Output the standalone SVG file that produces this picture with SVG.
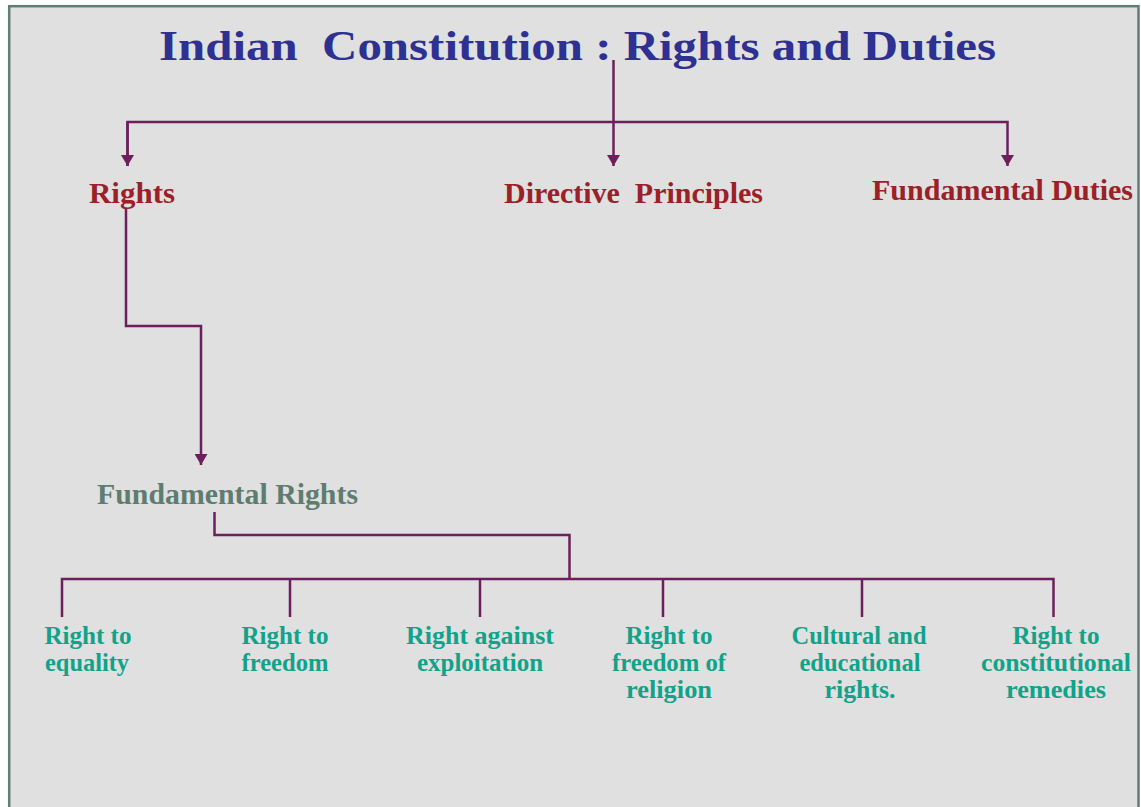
<svg xmlns="http://www.w3.org/2000/svg" width="1141" height="807" viewBox="0 0 1141 807">
  <style>
    .conn { fill: none; stroke: #6d1f5d; stroke-width: 2.5; }
    .title { font-family: "Liberation Serif", "Times New Roman", serif; font-weight: bold; font-size: 42px; fill: #2e3191; white-space: pre; }
    .main { font-family: "Liberation Serif", "Times New Roman", serif; font-weight: bold; font-size: 30px; fill: #9b2027; white-space: pre; }
    .sub { font-family: "Liberation Serif", "Times New Roman", serif; font-weight: bold; font-size: 29px; fill: #5e7d70; }
    .leaf { font-family: "Liberation Serif", "Times New Roman", serif; font-weight: bold; font-size: 26px; fill: #10a38a; text-anchor: middle; }
  </style>
  <defs>
    <marker id="arr" markerUnits="userSpaceOnUse" markerWidth="11" markerHeight="13" viewBox="0 0 11 13" refX="11" refY="6.5" orient="auto">
      <path d="M0,0 L11,6.5 L0,13 z" fill="#6d1f5d"/>
    </marker>
  </defs>
  <rect x="0" y="0" width="1141" height="807" fill="#ffffff"/>
  <rect x="9.2" y="6.2" width="1129.3" height="820" fill="#dfe0df" stroke="#5f7f71" stroke-width="2.5"/>

  <g id="connectors">
    <path class="conn" d="M613.5,60 V166" marker-end="url(#arr)"/>
    <path class="conn" d="M127.5,166 V122 H1007.5 V166" marker-end="url(#arr)"/>
    <path class="conn" d="M127.5,122 V166" marker-end="url(#arr)"/>
    <path class="conn" d="M126,208 V326 H201 V465" marker-end="url(#arr)"/>
    <path class="conn" d="M214.5,512 V535 H569.5 V579"/>
    <path class="conn" d="M62,617 V579 H1053.5 V617"/>
    <path class="conn" d="M290,579 V617"/>
    <path class="conn" d="M480,579 V617"/>
    <path class="conn" d="M663,579 V617"/>
    <path class="conn" d="M862,579 V617"/>
  </g>

  <g id="title">
    <text class="title" x="159" y="60" textLength="837" lengthAdjust="spacingAndGlyphs">Indian  Constitution : Rights and Duties</text>
  </g>
  <g id="rights">
    <text class="main" x="89" y="203" textLength="86" lengthAdjust="spacingAndGlyphs">Rights</text>
  </g>
  <g id="directive-principles">
    <text class="main" x="504" y="203" textLength="259" lengthAdjust="spacingAndGlyphs">Directive  Principles</text>
  </g>
  <g id="fundamental-duties">
    <text class="main" x="872" y="200" textLength="261" lengthAdjust="spacingAndGlyphs">Fundamental Duties</text>
  </g>
  <g id="fundamental-rights">
    <text class="sub" x="97" y="504" textLength="261" lengthAdjust="spacingAndGlyphs">Fundamental Rights</text>
  </g>

  <g id="right-to-equality">
    <text class="leaf" x="88" y="644" textLength="87" lengthAdjust="spacingAndGlyphs">Right to</text>
    <text class="leaf" x="87" y="671" textLength="84" lengthAdjust="spacingAndGlyphs">equality</text>
  </g>
  <g id="right-to-freedom">
    <text class="leaf" x="285" y="644" textLength="87" lengthAdjust="spacingAndGlyphs">Right to</text>
    <text class="leaf" x="285" y="671" textLength="87" lengthAdjust="spacingAndGlyphs">freedom</text>
  </g>
  <g id="right-against-exploitation">
    <text class="leaf" x="480" y="644" textLength="148" lengthAdjust="spacingAndGlyphs">Right against</text>
    <text class="leaf" x="480" y="671" textLength="126" lengthAdjust="spacingAndGlyphs">exploitation</text>
  </g>
  <g id="right-to-freedom-of-religion">
    <text class="leaf" x="669" y="644" textLength="87" lengthAdjust="spacingAndGlyphs">Right to</text>
    <text class="leaf" x="669" y="671" textLength="114" lengthAdjust="spacingAndGlyphs">freedom of</text>
    <text class="leaf" x="669" y="698" textLength="86" lengthAdjust="spacingAndGlyphs">religion</text>
  </g>
  <g id="cultural-educational-rights">
    <text class="leaf" x="859" y="644" textLength="135" lengthAdjust="spacingAndGlyphs">Cultural and</text>
    <text class="leaf" x="860" y="671" textLength="121" lengthAdjust="spacingAndGlyphs">educational</text>
    <text class="leaf" x="860" y="698" textLength="71" lengthAdjust="spacingAndGlyphs">rights.</text>
  </g>
  <g id="right-to-constitutional-remedies">
    <text class="leaf" x="1056" y="644" textLength="87" lengthAdjust="spacingAndGlyphs">Right to</text>
    <text class="leaf" x="1056" y="671" textLength="150" lengthAdjust="spacingAndGlyphs">constitutional</text>
    <text class="leaf" x="1056" y="698" textLength="100" lengthAdjust="spacingAndGlyphs">remedies</text>
  </g>
</svg>
